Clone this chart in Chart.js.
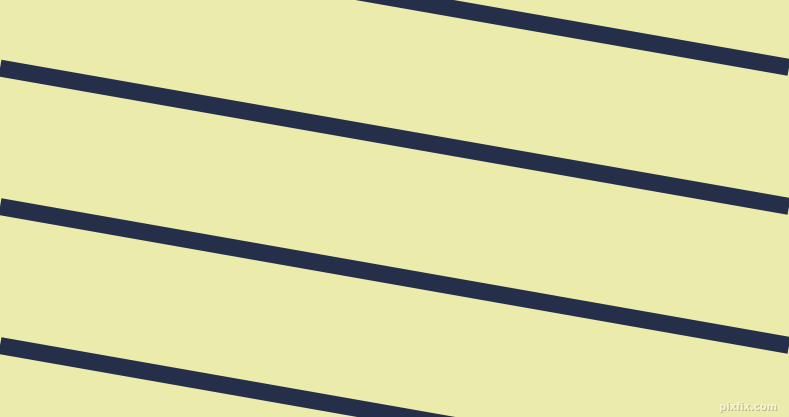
<!DOCTYPE html>
<html>
<head>
<meta charset="utf-8">
<script src="https://cdn.jsdelivr.net/npm/chart.js@4"></script>
<style>
  html, body { margin: 0; padding: 0; background: #ebecac; overflow: hidden; }
  canvas { display: block; }
</style>
</head>
<body>
<canvas id="myChart" width="789" height="417"></canvas>
<script>
    // stripe end points, read at the left (x=0) and right (x=789) edges
    var edgeX = [0, 789];
    var stripe1 = [-71, 67.5];
    var stripe2 = [68, 206.5];
    var stripe3 = [206.7, 345.5];
    var stripe4 = [345.5, 484.3];
    var stripes = [stripe1, stripe2, stripe3, stripe4];
    var watermark = 'pixfix.com';

    var datasets = new Array();
    for (var i = 0; i < stripes.length; i++) {
        var pts = new Array();
        for (var j = 0; j < edgeX.length; j++) {
            pts[j] = { x: edgeX[j], y: stripes[i][j] };
        }
        datasets[i] = {
            data: pts,
            showLine: true,
            borderColor: '#262f4a',
            borderWidth: 17,
            borderCapStyle: 'butt',
            pointRadius: 0,
            fill: false
        };
    }

    const background = {
        id: 'background',
        beforeDraw: function (chart) {
            var ctx = chart.ctx;
            ctx.save();
            ctx.fillStyle = '#ebecac';
            ctx.fillRect(0, 0, chart.width, chart.height);
            ctx.restore();
        },
        afterDraw: function (chart) {
            var ctx = chart.ctx;
            ctx.save();
            ctx.font = 'bold 10px "DejaVu Sans"';
            ctx.textAlign = 'right';
            ctx.textBaseline = 'alphabetic';
            ctx.fillStyle = '#b8b890';
            ctx.fillText(watermark, 778, 411);
            ctx.fillStyle = '#f4f4d0';
            ctx.fillText(watermark, 777, 410);
            ctx.restore();
        }
    };

    var ctx = document.getElementById('myChart').getContext('2d');
    var myChart = new Chart(ctx, {
        type: 'scatter',
        data: { datasets: datasets },
        options: {
            responsive: false,
            animation: false,
            devicePixelRatio: 1,
            layout: { padding: 0 },
            plugins: {
                legend: { display: false },
                tooltip: { enabled: false }
            },
            scales: {
                x: { type: 'linear', min: 0, max: 789, display: false },
                y: { type: 'linear', min: 0, max: 417, reverse: true, display: false }
            }
        },
        plugins: [background]
    });
</script>
</body>
</html>
